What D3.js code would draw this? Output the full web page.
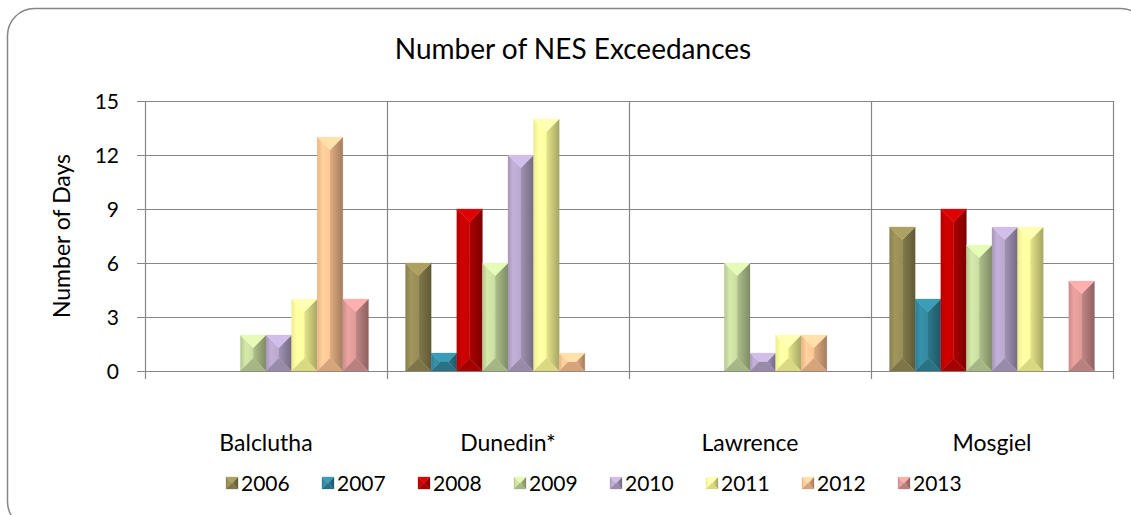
<!DOCTYPE html>
<html>
<head>
<meta charset="utf-8">
<script src="https://cdn.jsdelivr.net/npm/d3@7"></script>
<style>
  html, body { margin: 0; padding: 0; background: #fff; }
  svg { display: block; font-family: Lato, "Open Sans", sans-serif; }
</style>
</head>
<body>
<div id="chart"></div>
<script>
const title = 'Number of NES Exceedances';
const yTitle = 'Number of Days';
const categories = ['Balclutha', 'Dunedin*', 'Lawrence', 'Mosgiel'];
const years = ['2006', '2007', '2008', '2009', '2010', '2011', '2012', '2013'];
const colors = ['#938953', '#31859C', '#C00000', '#C3D69B', '#B3A2C7', '#FFFF99', '#FAC090', '#D99694'];
// one array per category, values in year order
const balclutha = [0, 0, 0, 2, 2, 4, 13, 4];
const dunedin = [6, 1, 9, 6, 12, 14, 1, 0];
const lawrence = [0, 0, 0, 6, 1, 2, 2, 0];
const mosgiel = [8, 4, 9, 7, 8, 8, 0, 5];
const yTicks = [0, 3, 6, 9, 12, 15];

const values = [balclutha, dunedin, lawrence, mosgiel];

const W = 1131, H = 515;
const plot = { left: 145, right: 1113, top: 101, bottom: 371 };
const gridColor = '#868686';

const svg = d3.select('#chart').append('svg')
  .attr('width', W)
  .attr('height', H);

const defs = svg.append('defs');

// outer rounded frame, right and bottom edges run past the window
svg.append('rect')
  .attr('x', 7.5).attr('y', 8.5)
  .attr('width', 1140).attr('height', 520)
  .attr('rx', 27).attr('ry', 27)
  .attr('fill', '#fff')
  .attr('stroke', '#868686')
  .attr('stroke-width', 1.5);

svg.append('text')
  .attr('x', 573).attr('y', 59)
  .attr('text-anchor', 'middle')
  .attr('font-size', 28)
  .text(title);

let x0 = d3.scaleBand()
  .domain(categories)
  .range([plot.left, plot.right]);

let x1 = d3.scaleBand()
  .domain(years)
  .range([0, x0.bandwidth()])
  .paddingInner(0)
  .paddingOuter(0.725);

let y = d3.scaleLinear()
  .domain([0, 15])
  .range([plot.bottom, plot.top]);

// gradients for the bevelled faces
years.forEach((yr, i) => {
  let c = d3.color(colors[i]);
  let gl = defs.append('linearGradient').attr('id', 'gl' + i)
    .attr('x1', 0).attr('x2', 1).attr('y1', 0).attr('y2', 0);
  gl.append('stop').attr('offset', 0).attr('stop-color', c.darker(0.2));
  gl.append('stop').attr('offset', 0.4).attr('stop-color', c.brighter(0.25));
  gl.append('stop').attr('offset', 1).attr('stop-color', c.brighter(0.1));
  let gr = defs.append('linearGradient').attr('id', 'gr' + i)
    .attr('x1', 0).attr('x2', 1).attr('y1', 0).attr('y2', 0);
  gr.append('stop').attr('offset', 0).attr('stop-color', c.darker(0.3));
  gr.append('stop').attr('offset', 1).attr('stop-color', c.darker(1.2));
});

// horizontal gridlines with tick stubs on the left
let grid = svg.append('g');
grid.selectAll('line.h')
  .data(yTicks)
  .enter()
  .append('line')
  .attr('class', 'h')
  .attr('x1', plot.left - 8)
  .attr('x2', plot.right)
  .attr('y1', d => Math.round(y(d)) + 0.5)
  .attr('y2', d => Math.round(y(d)) + 0.5)
  .attr('stroke', gridColor)
  .attr('stroke-width', 1.2);

// vertical category gridlines, stubs below axis
let bounds = categories.map(c => x0(c)).concat([plot.right]);
grid.selectAll('line.v')
  .data(bounds)
  .enter()
  .append('line')
  .attr('class', 'v')
  .attr('x1', d => Math.round(d) + 0.5)
  .attr('x2', d => Math.round(d) + 0.5)
  .attr('y1', plot.top)
  .attr('y2', plot.bottom + 8)
  .attr('stroke', gridColor)
  .attr('stroke-width', 1.2);

svg.append('g')
  .selectAll('text')
  .data(yTicks)
  .enter()
  .append('text')
  .attr('x', 119)
  .attr('y', d => y(d))
  .attr('dy', '0.36em')
  .attr('text-anchor', 'end')
  .attr('font-size', 21)
  .text(d => d);

svg.append('text')
  .attr('transform', `translate(70,${(plot.top + plot.bottom) / 2}) rotate(-90)`)
  .attr('text-anchor', 'middle')
  .attr('font-size', 23)
  .text(yTitle);

svg.append('g')
  .selectAll('text')
  .data(categories)
  .enter()
  .append('text')
  .attr('x', d => x0(d) + x0.bandwidth() / 2)
  .attr('y', 451)
  .attr('text-anchor', 'middle')
  .attr('font-size', 23)
  .text(d => d);

// bevel faces for a box
function bevel(g, bx0, by0, bx1, by1, i) {
  let c = d3.color(colors[i]);
  let d = Math.min(bx1 - bx0, by1 - by0) / 2;
  let ix0 = bx0 + d, ix1 = bx1 - d, iy0 = by0 + d, iy1 = by1 - d;
  let faces = [
    { pts: [[bx0, by1], [bx0, by0], [ix0, iy0], [ix0, iy1]], fill: `url(#gl${i})` },
    { pts: [[bx1, by0], [bx1, by1], [ix1, iy1], [ix1, iy0]], fill: `url(#gr${i})` },
    { pts: [[bx0, by0], [bx1, by0], [ix1, iy0], [ix0, iy0]], fill: c.brighter(0.45) },
    { pts: [[bx1, by1], [bx0, by1], [ix0, iy1], [ix1, iy1]], fill: c.darker(0.45) }
  ];
  g.selectAll('polygon')
    .data(faces)
    .enter()
    .append('polygon')
    .attr('points', f => f.pts.map(p => p.join(',')).join(' '))
    .attr('fill', f => f.fill)
    .attr('stroke', f => f.fill)
    .attr('stroke-width', 0.3);
}

let bars = [];
categories.forEach((cat, ci) => {
  years.forEach((yr, yi) => {
    if (values[ci][yi] > 0) bars.push({ cat, yr, yi, v: values[ci][yi] });
  });
});

svg.append('g')
  .selectAll('g')
  .data(bars)
  .enter()
  .append('g')
  .each(function (d) {
    let bx = x0(d.cat) + x1(d.yr);
    bevel(d3.select(this), bx, y(d.v), bx + x1.bandwidth(), y(0), d.yi);
  });

// legend
let legendStep = 96;
let legendStart = 226;
let legend = svg.append('g')
  .selectAll('g')
  .data(years)
  .enter()
  .append('g')
  .attr('transform', (d, i) => `translate(${legendStart + i * legendStep},483)`);

legend.each(function (d, i) {
  bevel(d3.select(this), 0, -6, 12, 6, i);
});

legend.append('text')
  .attr('x', 15)
  .attr('y', 0)
  .attr('dy', '0.36em')
  .attr('font-size', 21)
  .text(d => d);
</script>
</body>
</html>
